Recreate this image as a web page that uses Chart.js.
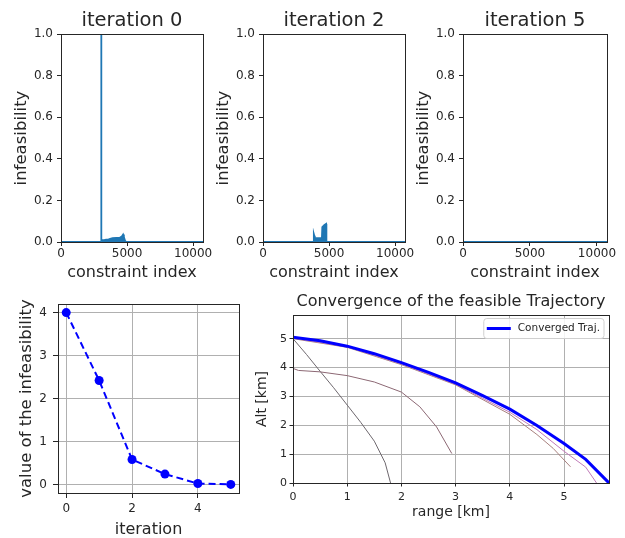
<!DOCTYPE html>
<html>
<head>
<meta charset="utf-8">
<script src="https://cdn.jsdelivr.net/npm/chart.js@4.4.1/dist/chart.umd.min.js"></script>
<style>
  html, body { margin: 0; padding: 0; background: #fff; overflow: hidden; }
  body { width: 625px; height: 538px; position: relative; }
  .panel { position: absolute; }
  .panel canvas { display: block; }
</style>
</head>
<body>
<div class="panel" style="left:0px;top:0px"><canvas id="iter0" width="215" height="290"></canvas></div>
<div class="panel" style="left:202px;top:0px"><canvas id="iter2" width="215" height="290"></canvas></div>
<div class="panel" style="left:402px;top:0px"><canvas id="iter5" width="223" height="290"></canvas></div>
<div class="panel" style="left:0px;top:280px"><canvas id="total" width="255" height="268"></canvas></div>
<div class="panel" style="left:250px;top:280px"><canvas id="traj" width="370" height="268"></canvas></div>
<script>
// infeasibility of every constraint at a few iterations
const constraintIdx0 = [0, 3030, 3045, 3060, 3300, 3600, 3900, 4200, 4450, 4620, 4700, 4760, 4850, 4880, 10750];
const infeas0 = [0, 0, 1.0, 0.008, 0.01, 0.013, 0.018, 0.02, 0.021, 0.028, 0.036, 0.024, 0.006, 0, 0];
const constraintIdx2 = [0, 3830, 3850, 3880, 3920, 4200, 4460, 4490, 4650, 4780, 4800, 10750];
const infeas2 = [0, 0, 0.037, 0.03, 0.018, 0.018, 0.019, 0.072, 0.082, 0.087, 0, 0];
const constraintIdx5 = [0, 2500, 5000, 7500, 10750];
const infeas5 = [0, 0, 0, 0, 0];
const idxTicks = [0, 5000, 10000];
const infeasTicks = [0, 0.2, 0.4, 0.6, 0.8, 1.0];

// summed infeasibility per iteration
const iterations = [0, 1, 2, 3, 4, 5];
const infeasTotal = [4.0, 2.42, 0.58, 0.24, 0.02, 0.0];
const iterTicks = [0, 2, 4];
const totalTicks = [0, 1, 2, 3, 4];

// trajectories, range and altitude in km
const rangeConv = [0, 0.5, 1, 1.5, 2, 2.5, 3, 3.5, 4, 4.5, 5, 5.4, 5.83];
const altConv = [5.05, 4.93, 4.74, 4.48, 4.17, 3.83, 3.47, 3.03, 2.56, 1.99, 1.37, 0.82, 0.0];
const rangeA = [0, 0.25, 0.5, 0.75, 1, 1.25, 1.5, 1.7, 1.8];
const altA = [5.0, 4.45, 3.87, 3.3, 2.7, 2.1, 1.45, 0.7, 0.0];
const rangeB = [0, 0.1, 0.5, 1, 1.5, 2, 2.34, 2.65, 2.93];
const altB = [3.97, 3.9, 3.85, 3.72, 3.5, 3.15, 2.64, 1.94, 1.02];
const rangeC = [0, 1, 2, 3, 4, 4.5, 4.8, 5.12];
const altC = [5.0, 4.7, 4.1, 3.4, 2.38, 1.68, 1.2, 0.56];
const rangeD = [0, 1, 2, 3, 4, 4.5, 5, 5.4, 5.6];
const altD = [5.02, 4.72, 4.13, 3.42, 2.45, 1.85, 1.1, 0.55, 0.0];
const kmTicks = [0, 1, 2, 3, 4, 5];

const INK = '#262626';
const FONT = 'DejaVu Sans';
Chart.defaults.font.family = FONT;
Chart.defaults.color = INK;

function pts(xs, ys) {
  return xs.map((x, i) => ({ x: x, y: ys[i] }));
}

function fixedTicks(values) {
  return scale => { scale.ticks = values.map(v => ({ value: v })); };
}

// black box round the plot area
const frame = {
  id: 'frame',
  afterDatasetsDraw(chart) {
    const { ctx, chartArea: a } = chart;
    ctx.save();
    ctx.strokeStyle = INK;
    ctx.lineWidth = 1;
    ctx.strokeRect(Math.round(a.left) + 0.5, Math.round(a.top) + 0.5,
      Math.round(a.right - a.left), Math.round(a.bottom - a.top));
    ctx.restore();
  }
};

// small legend box in the upper right corner of the plot
const cornerLegend = {
  id: 'cornerLegend',
  afterDraw(chart) {
    const items = chart.data.datasets.filter(d => d.label);
    const { ctx, chartArea: a } = chart;
    ctx.save();
    ctx.font = '10.5px "' + FONT + '"';
    const tw = Math.max(...items.map(d => ctx.measureText(d.label).width));
    const w = 3 + 24 + 7 + tw + 4;
    const h = 20;
    const x = a.right - 5 - w;
    const y = a.top + 3.5;
    ctx.fillStyle = 'rgba(255,255,255,0.85)';
    ctx.strokeStyle = '#d0d0d0';
    ctx.lineWidth = 1;
    ctx.beginPath();
    ctx.roundRect(x, y, w, h * items.length, 3);
    ctx.fill();
    ctx.stroke();
    items.forEach((d, i) => {
      const cy = y + h / 2 + i * h;
      ctx.strokeStyle = d.borderColor;
      ctx.lineWidth = d.borderWidth;
      ctx.beginPath();
      ctx.moveTo(x + 3, cy);
      ctx.lineTo(x + 27, cy);
      ctx.stroke();
      ctx.fillStyle = INK;
      ctx.textBaseline = 'middle';
      ctx.fillText(d.label, x + 34, cy);
    });
    ctx.restore();
  }
};

function iterationPanel(id, title, xs, ys, rightPad) {
  new Chart(document.getElementById(id), {
    type: 'line',
    data: {
      datasets: [{
        data: pts(xs, ys),
        borderColor: '#1f77b4',
        backgroundColor: '#1f77b4',
        borderWidth: 1.8,
        pointRadius: 0,
        fill: 'origin',
        tension: 0
      }]
    },
    options: {
      responsive: false,
      animation: false,
      layout: { padding: { left: 0, right: rightPad, top: 0, bottom: 0 } },
      plugins: {
        legend: { display: false },
        tooltip: { enabled: false },
        title: {
          display: true,
          text: title,
          fullSize: false,
          color: INK,
          font: { size: 19.5, weight: 'normal' },
          padding: { top: 9.1, bottom: 1.5 }
        }
      },
      scales: {
        x: {
          type: 'linear',
          min: 0,
          max: 10750,
          afterBuildTicks: fixedTicks(idxTicks),
          afterFit: s => { s.height = 48; },
          border: { display: false },
          grid: { drawOnChartArea: false, tickLength: 4, tickColor: INK },
          ticks: { font: { size: 12 }, padding: 0.5, maxRotation: 0, autoSkip: false, callback: v => String(v) },
          title: { display: true, text: 'constraint index', font: { size: 16 }, padding: { top: 0, bottom: 7.2 } }
        },
        y: {
          type: 'linear',
          min: 0,
          max: 1,
          afterBuildTicks: fixedTicks(infeasTicks),
          afterFit: s => { s.width = 61; },
          border: { display: false },
          grid: { drawOnChartArea: false, tickLength: 4, tickColor: INK },
          ticks: { font: { size: 12 }, padding: 4, autoSkip: false, callback: v => v.toFixed(1) },
          title: { display: true, text: 'infeasibility', font: { size: 16.5 }, padding: { top: 12, bottom: 0 } }
        }
      }
    },
    plugins: [frame]
  });
}

iterationPanel('iter0', 'iteration 0', constraintIdx0, infeas0, 12);
iterationPanel('iter2', 'iteration 2', constraintIdx2, infeas2, 12);
iterationPanel('iter5', 'iteration 5', constraintIdx5, infeas5, 18);

// summed infeasibility against iteration
new Chart(document.getElementById('total'), {
  type: 'line',
  data: {
    datasets: [{
      data: pts(iterations, infeasTotal),
      borderColor: '#0000ff',
      backgroundColor: '#0000ff',
      borderWidth: 2,
      borderDash: [7, 4],
      pointRadius: 4.5,
      pointBorderWidth: 0,
      fill: false,
      tension: 0
    }]
  },
  options: {
    responsive: false,
    animation: false,
    layout: { padding: { left: 0, right: 16, top: 24, bottom: 0 } },
    plugins: { legend: { display: false }, tooltip: { enabled: false } },
    scales: {
      x: {
        type: 'linear',
        min: -0.25,
        max: 5.25,
        afterBuildTicks: fixedTicks(iterTicks),
        afterFit: s => { s.height = 55; },
        border: { display: false },
        grid: { color: '#b0b0b0', tickLength: 5, tickColor: INK },
        ticks: { font: { size: 12 }, padding: 4, maxRotation: 0, autoSkip: false },
        title: { display: true, text: 'iteration', font: { size: 16 }, padding: { top: 0, bottom: 8.2 } }
      },
      y: {
        type: 'linear',
        min: -0.2,
        max: 4.2,
        afterBuildTicks: fixedTicks(totalTicks),
        afterFit: s => { s.width = 58; },
        border: { display: false },
        grid: { color: '#b0b0b0', tickLength: 5, tickColor: INK },
        ticks: { font: { size: 12 }, padding: 6, autoSkip: false },
        title: { display: true, text: 'value of the infeasibility', font: { size: 16.5 }, padding: { top: 16.8, bottom: 0 } }
      }
    }
  },
  plugins: [frame]
});

// trajectory of each iteration, the converged one drawn on top
function thin(xs, ys, color) {
  return { data: pts(xs, ys), borderColor: color, borderWidth: 1, pointRadius: 0, fill: false, tension: 0 };
}

new Chart(document.getElementById('traj'), {
  type: 'line',
  data: {
    datasets: [
      { label: 'Converged Traj.', data: pts(rangeConv, altConv), borderColor: '#0000ff', borderWidth: 3, pointRadius: 0, fill: false, tension: 0 },
      thin(rangeD, altD, '#c07ab8'),
      thin(rangeC, altC, '#a8807e'),
      thin(rangeB, altB, '#8c6874'),
      thin(rangeA, altA, '#6e686e')
    ]
  },
  options: {
    responsive: false,
    animation: false,
    layout: { padding: { left: 0, right: 11, top: 0, bottom: 0 } },
    plugins: {
      legend: { display: false },
      tooltip: { enabled: false },
      title: {
        display: true,
        text: 'Convergence of the feasible Trajectory',
        fullSize: false,
        color: INK,
        font: { size: 16, weight: 'normal' },
        padding: { top: 12.3, bottom: 3.5 }
      }
    },
    scales: {
      x: {
        type: 'linear',
        min: 0,
        max: 5.83,
        afterBuildTicks: fixedTicks(kmTicks),
        afterFit: s => { s.height = 65; },
        border: { display: false },
        grid: { color: '#b0b0b0', tickLength: 3.5, tickColor: INK },
        ticks: { font: { size: 11 }, padding: 3.6, maxRotation: 0, autoSkip: false },
        title: { display: true, text: 'range [km]', font: { size: 14 }, padding: { top: 0, bottom: 26.8 } }
      },
      y: {
        type: 'linear',
        min: 0,
        max: 5.82,
        afterBuildTicks: fixedTicks(kmTicks),
        afterFit: s => { s.width = 43; },
        border: { display: false },
        grid: { color: '#b0b0b0', tickLength: 3.5, tickColor: INK },
        ticks: { font: { size: 11 }, padding: 2.5, autoSkip: false },
        title: { display: true, text: 'Alt [km]', font: { size: 14 }, padding: { top: 3.9, bottom: 0 } }
      }
    }
  },
  plugins: [frame, cornerLegend]
});
</script>
</body>
</html>
